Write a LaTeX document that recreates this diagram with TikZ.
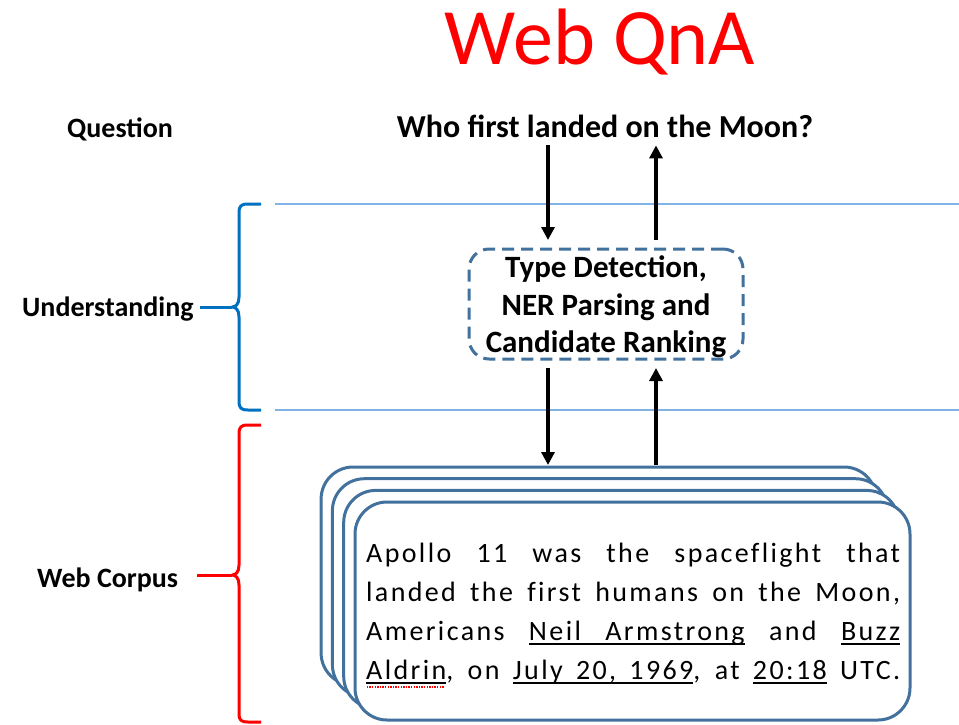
\documentclass[tikz,border=0pt]{standalone}
\usepackage{fontspec}
\setmainfont{Carlito}
\newfontfamily\corpusfont[LetterSpace=8.5,Ligatures=NoCommon]{Carlito}
\usetikzlibrary{arrows.meta}
\definecolor{cardblue}{HTML}{41719C}
\definecolor{braceblue}{HTML}{0070C0}
\definecolor{bracered}{HTML}{FF0000}
\definecolor{sepline}{HTML}{7FB2E5}
\newcommand\myul[1]{\leavevmode\setbox0=\hbox{#1}\rlap{\rule[-5pt]{\wd0}{2pt}}\box0}
\newcommand\ulsp{\leaders\hrule height -3pt depth 5pt\hskip\fontdimen2\font plus \fontdimen3\font minus \fontdimen4\font\relax}
\newcommand\myulred[1]{\leavevmode\setbox0=\hbox{#1}\rlap{\rule[-5pt]{\wd0}{2pt}}\rlap{\color{red}\raisebox{-8.5pt}{\hbox to \wd0{\leaders\hbox to 2.6pt{\hss\rule{1.3pt}{1.3pt}\hss}\hfill}}}\box0}
\tikzset{
  lbl/.style={font=\fontsize{28}{33}\selectfont\bfseries, anchor=base west, inner sep=2pt},
  arr/.style={line width=3.5pt, -{Triangle[width=13pt,length=13pt]}},
  card/.style={draw=cardblue, line width=3pt, fill=white, rounded corners=32pt,
    minimum width=555pt, minimum height=218pt, inner sep=0pt},
  dbox/.style={draw=cardblue, line width=3pt, dash pattern=on 12pt off 7pt, rounded corners=20pt,
    minimum width=274pt, minimum height=110pt, inner sep=2pt},
  dtext/.style={inner sep=0pt, align=center, font=\fontsize{31}{37.5}\selectfont\bfseries},
  cline/.style={anchor=base west, inner sep=0pt, font=\fontsize{28}{33}\corpusfont},
  sep/.style={draw=sepline, line width=1.5pt},
  ubrace/.style={draw=braceblue, line width=3pt},
  rbrace/.style={draw=bracered, line width=3pt},
}
\begin{document}
\begin{tikzpicture}[x=1pt,y=-1pt]
\useasboundingbox (0,0) rectangle (959,724);

\node[text=red, font=\fontsize{80}{90}\selectfont, anchor=base, inner sep=0pt] (title) at (600,64) {Web QnA};

\node[lbl] (qlabel) at (65,137) {Question};
\node[lbl] (ulabel) at (20,316) {Understanding};
\node[lbl] (clabel) at (35,587) {Web Corpus};

\node[font=\fontsize{32}{38}\selectfont\bfseries, anchor=base, inner sep=2pt] (question) at (605,137) {Who first landed on the Moon?};

% separator lines
\draw[sep] (275,204) -- (959,204);
\draw[sep] (275,410) -- (959,410);

% braces
\coordinate (utip) at (232,307);
\coordinate (ctip) at (232,575);
\draw[ubrace, line join=round] (261,204) -- (248,204) .. controls (241,204) and (239,206) .. (239,213) -- (239,297)
  .. controls (239,304) and (236,307) .. (utip) .. controls (236,307) and (239,310) .. (239,317) -- (239,401)
  .. controls (239,408) and (241,410) .. (248,410) -- (261,410);
\draw[ubrace, shorten <=4pt] (ulabel.east |- utip) -- (utip);
\draw[rbrace, line join=round] (261,425) -- (248,425) .. controls (241,425) and (239,427) .. (239,434) -- (239,565)
  .. controls (239,572) and (236,575) .. (ctip) .. controls (236,575) and (239,578) .. (239,585) -- (239,714)
  .. controls (239,720) and (241,722) .. (248,722) -- (261,722);
\draw[rbrace, shorten <=17pt] (clabel.east |- ctip) -- (ctip);

% understanding box
\node[dbox] (detect) at (606,304) {};
\node[dtext] (detecttext) at (606,307) {Type Detection,\\NER Parsing and\\Candidate Ranking};

% corpus cards
\node[card] (card1) at (598.6,576) {};
\node[card] (card2) at (609.9,587.7) {};
\node[card] (card3) at (621.2,599.4) {};
\node[card] (card4) at (632.5,611) {};

\node[cline] (line1) at (366,562) {\makebox[534pt][s]{Apollo 11 was the spaceflight that}};
\node[cline] (line2) at (366,601) {\makebox[534pt][s]{landed the first humans on the Moon,}};
\node[cline] (line3) at (366,640) {\makebox[534pt][s]{Americans \myul{Neil}\ulsp\myul{Armstrong}\ and \myul{Buzz}}};
\node[cline] (line4) at (366,679) {\makebox[534pt][s]{\myulred{Aldrin}, on \myul{July}\ulsp\myul{20,}\ulsp\myul{1969}, at \myul{20:18}\ UTC.}};

% arrows
\coordinate (xL) at (548,0);
\coordinate (xR) at (656,0);
\draw[arr, shorten <=6pt, shorten >=7.5pt] (question.south -| xL) -- (detect.north -| xL);
\draw[arr, shorten <=7.5pt, shorten >=6pt] (detect.north -| xR) -- (question.south -| xR);
\draw[arr, shorten <=7.5pt, shorten >=0.5pt] (detect.south -| xL) -- (card1.north -| xL);
\draw[arr, shorten <=0.5pt, shorten >=7.5pt] (card1.north -| xR) -- (detect.south -| xR);
\end{tikzpicture}
\end{document}
